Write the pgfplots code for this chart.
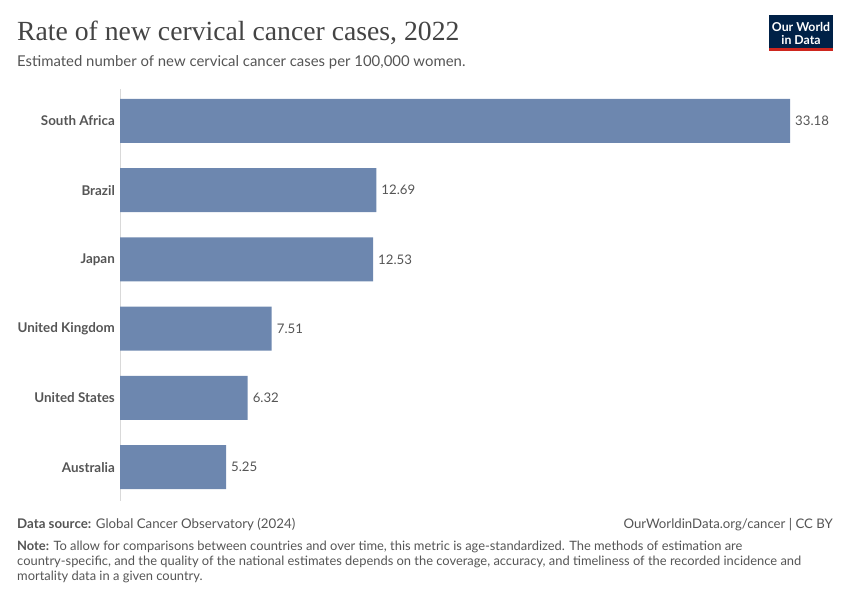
\documentclass[border=0pt]{standalone}
\usepackage{pgfplots}
\pgfplotsset{compat=1.18}
\usepackage{fontspec}
\setmainfont{Lato}
\newfontfamily\titlefont{Liberation Serif}
\definecolor{barc}{HTML}{6D87AF}
\definecolor{txt}{HTML}{555555}
\definecolor{ttl}{HTML}{444444}
\definecolor{navy}{HTML}{002147}
\definecolor{owred}{HTML}{CE261E}
\begin{document}
\begin{tikzpicture}
\begin{scope}[x=1pt,y=1pt]
\path[use as bounding box] (0,0) rectangle (850,-600);
% title
\node[anchor=base west,inner sep=0pt,text=ttl,font=\titlefont\fontsize{27.7}{32}\selectfont] at (17,-40) {Rate of new cervical cancer cases, 2022};
\node[anchor=base west,inner sep=0pt,text=txt,font=\fontsize{14.9}{17}\selectfont] at (17,-66) {Estimated number of new cervical cancer cases per 100,000 women.};
% logo
\fill[navy] (769,-15) rectangle (833,-48);
\fill[owred] (769,-48) rectangle (833,-51);
\node[anchor=base,text=white,font=\bfseries\fontsize{12.3}{13}\selectfont,inner sep=0pt] at (801,-31) {Our World};
\node[anchor=base,text=white,font=\bfseries\fontsize{12.3}{13}\selectfont,inner sep=0pt] at (801,-44) {in Data};
% footer
\node[anchor=base west,inner sep=0pt,text=txt,font=\fontsize{13.3}{15}\selectfont] at (17,-528) {\textbf{Data source:} Global Cancer Observatory (2024)};
\node[anchor=base east,inner sep=0pt,text=txt,font=\fontsize{13.2}{15}\selectfont] at (833,-528) {OurWorldinData.org/cancer | CC BY};
\node[anchor=base west,inner sep=0pt,text=txt,font=\fontsize{12.9}{15}\selectfont] at (17,-550) {\textbf{Note:} To allow for comparisons between countries and over time, this metric is age-standardized. The methods of estimation are};
\node[anchor=base west,inner sep=0pt,text=txt,font=\fontsize{12.9}{15}\selectfont] at (17,-565) {country-specific, and the quality of the national estimates depends on the coverage, accuracy, and timeliness of the recorded incidence and};
\node[anchor=base west,inner sep=0pt,text=txt,font=\fontsize{12.9}{15}\selectfont] at (17,-580) {mortality data in a given country.};
\end{scope}
\begin{axis}[
  at={(120pt,-89pt)}, anchor=north west,
  scale only axis, width=670pt, height=412pt,
  xmin=0, xmax=33.18,
  ymin=-0.462, ymax=5.49, y dir=reverse,
  axis line style={draw=none},
  xtick=\empty,
  ytick={0,1,2,3,4,5},
  yticklabels={South Africa,Brazil,Japan,United Kingdom,United States,Australia},
  major tick length=0pt,
  yticklabel style={font=\bfseries\fontsize{13.4}{15}\selectfont,text=txt,inner sep=0pt,xshift=-5pt},
  xbar, bar width=44pt,
  nodes near coords,
  nodes near coords align=horizontal,
  every node near coord/.append style={font=\fontsize{13.2}{15}\selectfont,text=txt,inner sep=0pt,xshift=5pt,
    /pgf/number format/.cd,fixed,precision=2,zerofill,assume math mode=true},
  clip=false,
]
\draw[black!15,line width=1pt] (axis cs:0,-0.462) -- (axis cs:0,5.49);
\addplot[fill=barc,draw=none] coordinates {(33.18,0) (12.69,1) (12.53,2) (7.51,3) (6.32,4) (5.25,5)};
\end{axis}
\end{tikzpicture}
\end{document}
